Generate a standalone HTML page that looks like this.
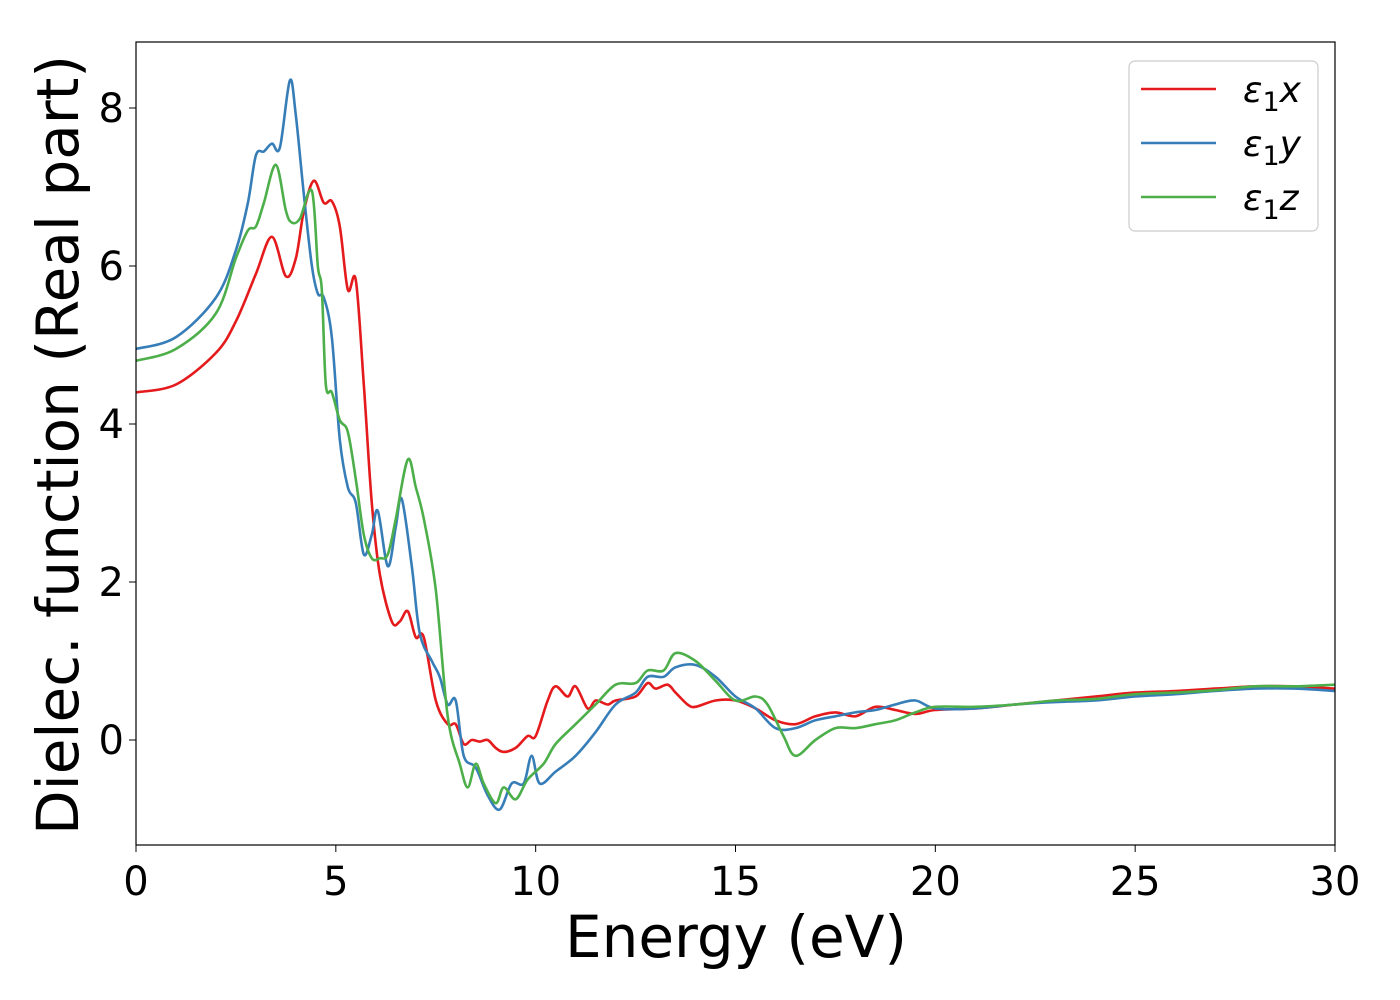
<!DOCTYPE html>
<html><head><meta charset="utf-8"><style>
body{margin:0;background:#fff;}
svg{display:block;font-family:"DejaVu Sans","Liberation Sans",sans-serif;}
</style></head><body>
<svg id="chart" width="1400" height="1000">
<rect x="0" y="0" width="1400" height="1000" fill="#fff"/>
<g id="plot"></g>
<rect x="136" y="42" width="1199" height="803" fill="none" stroke="#000" stroke-width="1.2"/>
<g id="xticks"></g><g id="yticks"></g>
<text x="736" y="957" font-size="58" text-anchor="middle">Energy (eV)</text>
<text transform="translate(78,445) rotate(-90)" font-size="58" text-anchor="middle">Dielec. function (Real part)</text>
<g>
<rect x="1129" y="61" width="189" height="170" rx="6" fill="#fff" stroke="#ccc" stroke-width="1.2"/>
<g><line x1="1141" y1="89" x2="1216" y2="89" stroke="#e41a1c" stroke-width="2.6"/><text x="1243" y="102" font-size="36" font-style="italic">ε<tspan font-style="normal" font-size="27" dy="9">1</tspan><tspan dy="-9">x</tspan></text></g>
<g><line x1="1141" y1="143" x2="1216" y2="143" stroke="#377eb8" stroke-width="2.6"/><text x="1243" y="156" font-size="36" font-style="italic">ε<tspan font-style="normal" font-size="27" dy="9">1</tspan><tspan dy="-9">y</tspan></text></g>
<g><line x1="1141" y1="197" x2="1216" y2="197" stroke="#4daf4a" stroke-width="2.6"/><text x="1243" y="210" font-size="36" font-style="italic">ε<tspan font-style="normal" font-size="27" dy="9">1</tspan><tspan dy="-9">z</tspan></text></g>
</g>
</svg>
<script>
const xTicks=[0,5,10,15,20,25,30];
const yTicks=[0,2,4,6,8];
const energyX=[0,1,2,2.5,3,3.4,3.75,4.0,4.2,4.45,4.7,4.9,5.1,5.3,5.5,5.7,5.9,6.1,6.4,6.6,6.8,7.0,7.2,7.5,7.8,8.0,8.2,8.4,8.6,8.8,9.0,9.2,9.5,9.8,10.0,10.3,10.5,10.8,11.0,11.3,11.5,11.8,12.0,12.5,12.8,13.0,13.3,13.5,13.8,14.0,14.5,15,15.5,16,16.5,17,17.5,18,18.5,19,19.5,20,21,22,23,24,25,26,27,28,29,30];
const eps1x=[4.4,4.5,4.9,5.3,5.9,6.37,5.87,6.1,6.7,7.08,6.8,6.82,6.5,5.7,5.82,4.5,3.0,2.1,1.5,1.5,1.63,1.3,1.3,0.5,0.2,0.2,-0.05,0.0,-0.02,0.0,-0.1,-0.15,-0.1,0.05,0.05,0.5,0.68,0.55,0.68,0.4,0.5,0.45,0.5,0.55,0.72,0.65,0.7,0.6,0.45,0.42,0.5,0.5,0.4,0.25,0.2,0.3,0.35,0.3,0.42,0.38,0.33,0.38,0.4,0.45,0.5,0.55,0.6,0.62,0.65,0.68,0.68,0.65];
const energyY=[0,1,2,2.5,2.8,3.0,3.2,3.4,3.6,3.85,4.0,4.2,4.4,4.55,4.7,4.9,5.1,5.3,5.5,5.7,5.9,6.05,6.3,6.5,6.65,6.9,7.1,7.4,7.6,7.8,8.0,8.2,8.5,8.8,9.1,9.4,9.7,9.9,10.1,10.5,11,11.5,12,12.5,12.8,13.2,13.5,14,14.5,15,15.5,16,16.5,17,17.5,18,18.5,19,19.5,20,21,22,23,24,25,26,27,28,29,30];
const eps1y=[4.95,5.1,5.6,6.2,6.8,7.4,7.45,7.55,7.5,8.35,7.9,6.9,6.0,5.65,5.6,5.1,3.8,3.2,3.0,2.35,2.6,2.9,2.2,2.7,3.05,2.2,1.35,1.0,0.8,0.45,0.5,-0.2,-0.35,-0.7,-0.88,-0.55,-0.55,-0.2,-0.55,-0.4,-0.2,0.1,0.45,0.6,0.8,0.8,0.92,0.95,0.8,0.55,0.4,0.15,0.15,0.25,0.3,0.35,0.38,0.45,0.5,0.4,0.4,0.45,0.48,0.5,0.55,0.58,0.62,0.65,0.65,0.62];
const energyZ=[0,1,2,2.5,2.8,3.0,3.2,3.5,3.75,3.9,4.1,4.4,4.55,4.65,4.75,4.9,5.1,5.3,5.5,5.7,5.9,6.1,6.3,6.5,6.8,7.0,7.2,7.5,7.8,8.1,8.3,8.5,8.7,9.0,9.2,9.5,9.8,10.2,10.5,11,11.5,12,12.5,12.8,13.2,13.5,14,14.5,15,15.5,15.8,16.2,16.5,17,17.5,18,18.5,19,19.5,20,21,22,23,24,25,26,27,28,29,30];
const eps1z=[4.8,4.95,5.4,6.1,6.45,6.5,6.8,7.28,6.7,6.55,6.6,6.95,6.0,5.7,4.5,4.4,4.05,3.9,3.3,2.6,2.3,2.3,2.35,2.8,3.55,3.2,2.8,1.9,0.3,-0.3,-0.6,-0.3,-0.55,-0.8,-0.6,-0.75,-0.5,-0.3,-0.05,0.2,0.45,0.7,0.72,0.88,0.88,1.1,1.0,0.75,0.5,0.55,0.45,0.05,-0.2,0.0,0.15,0.15,0.2,0.25,0.35,0.42,0.42,0.45,0.5,0.52,0.58,0.6,0.63,0.68,0.68,0.7];

const NS='http://www.w3.org/2000/svg';
const X0=136,X1=1335,Y0=740,YPU=79;
function xs(v){return X0+(X1-X0)*v/30;}
function ys(v){return Y0-YPU*v;}
function pathFor(xa,ya){
  const p=xa.map((x,i)=>[xs(x),ys(ya[i])]);
  let d='M'+p[0][0].toFixed(1)+','+p[0][1].toFixed(1);
  for(let i=0;i<p.length-1;i++){
    const a=p[Math.max(0,i-1)],b=p[i],c=p[i+1],e=p[Math.min(p.length-1,i+2)];
    const c1=[b[0]+(c[0]-a[0])/6,b[1]+(c[1]-a[1])/6],c2=[c[0]-(e[0]-b[0])/6,c[1]-(e[1]-b[1])/6];
    d+='C'+c1.map(v=>v.toFixed(1))+' '+c2.map(v=>v.toFixed(1))+' '+c[0].toFixed(1)+','+c[1].toFixed(1);
  }
  return d;
}
const plot=document.getElementById('plot');
[[energyX,eps1x,'#e41a1c','series-eps1x'],[energyY,eps1y,'#377eb8','series-eps1y'],[energyZ,eps1z,'#4daf4a','series-eps1z']].forEach(s=>{
  const el=document.createElementNS(NS,'path');
  el.setAttribute('d',pathFor(s[0],s[1]));
  el.setAttribute('fill','none');el.setAttribute('stroke',s[2]);el.setAttribute('stroke-width','2.6');
  
  
  plot.appendChild(el);
});
const xg=document.getElementById('xticks');
xTicks.forEach(t=>{
  const l=document.createElementNS(NS,'line');
  l.setAttribute('x1',xs(t));l.setAttribute('x2',xs(t));l.setAttribute('y1',845);l.setAttribute('y2',852);l.setAttribute('stroke','#000');
  
  
  xg.appendChild(l);
  const tx=document.createElementNS(NS,'text');
  tx.setAttribute('x',xs(t));tx.setAttribute('y',895);tx.setAttribute('font-size','40');tx.setAttribute('text-anchor','middle');
  tx.textContent=t;
  
  
  xg.appendChild(tx);
});
const yg=document.getElementById('yticks');
yTicks.forEach(t=>{
  const l=document.createElementNS(NS,'line');
  l.setAttribute('x1',129);l.setAttribute('x2',136);l.setAttribute('y1',ys(t));l.setAttribute('y2',ys(t));l.setAttribute('stroke','#000');
  
  
  yg.appendChild(l);
  const tx=document.createElementNS(NS,'text');
  tx.setAttribute('x',124);tx.setAttribute('y',ys(t)+14);tx.setAttribute('font-size','40');tx.setAttribute('text-anchor','end');
  tx.textContent=t;
  
  
  yg.appendChild(tx);
});
</script>
</body></html>
